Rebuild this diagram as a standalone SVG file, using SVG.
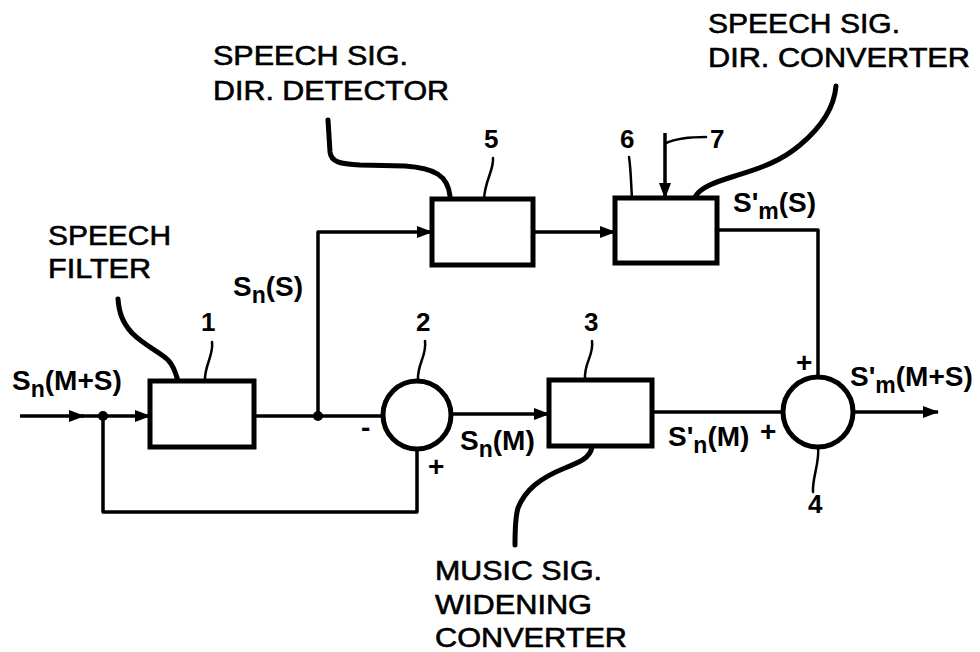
<svg xmlns="http://www.w3.org/2000/svg" width="980" height="652" viewBox="0 0 980 652">
<defs>
<style>
.ln{fill:none;stroke:#000;stroke-width:3.5;stroke-linejoin:round}
.bx{fill:#fff;stroke:#000;stroke-width:5}
.ld{fill:none;stroke:#000;stroke-width:2.5;stroke-linecap:round}
.tk{fill:none;stroke:#000;stroke-width:5;stroke-linecap:round;stroke-linejoin:round}
.lab{font-family:"Liberation Sans",Arial,sans-serif;font-size:27px;fill:#000;stroke:#000;stroke-width:0.6}
.sig{font-family:"Liberation Sans",Arial,sans-serif;font-weight:bold;font-size:28px;fill:#000}
.sub{font-size:23px}
.num{font-family:"Liberation Sans",Arial,sans-serif;font-weight:bold;font-size:26px;fill:#000}
.pm{font-family:"Liberation Sans",Arial,sans-serif;font-weight:bold;font-size:28px;fill:#000}
</style>
<marker id="ah" viewBox="0 0 16 12" refX="15" refY="6" markerWidth="16" markerHeight="12" markerUnits="userSpaceOnUse" orient="auto">
<path d="M0,0 L16,6 L0,12 Z" fill="#000"/>
</marker>
</defs>
<rect width="980" height="652" fill="#fff"/>

<g id="connectors">
<path class="ln" d="M20,416 L84,416" marker-end="url(#ah)"/>
<path class="ln" d="M82,416 L150,416" marker-end="url(#ah)"/>
<path class="ln" d="M103,416 L103,512 L417,512 L417,449"/>
<path class="ln" d="M254,416 L383,416"/>
<path class="ln" d="M318,416 L318,232 L432,232" marker-end="url(#ah)"/>
<path class="ln" d="M533,232 L615,232" marker-end="url(#ah)"/>
<path class="ln" d="M717,230 L818,230 L818,377"/>
<path class="ln" d="M451,414 L549,414" marker-end="url(#ah)"/>
<path class="ln" d="M652,412 L783,412"/>
<path class="ln" d="M853,412 L938,412" marker-end="url(#ah)"/>
<path class="ln" d="M665,133 L665,198" marker-end="url(#ah)"/>
<circle cx="103" cy="416" r="5" fill="#000"/>
<circle cx="318" cy="416" r="5" fill="#000"/>
</g>

<g id="leaders">
<path class="tk" d="M118,299 C119,312 122,322 132,333 C145,346 160,352 168,360 C174,366 176,374 178,381"/>
<path class="ld" d="M212,342 C214,355 204,366 205,381"/>
<path class="ld" d="M425,341 C427,356 417,364 418,380"/>
<path class="ld" d="M592,341 C594,356 584,362 585,379"/>
<path class="tk" d="M328,120 L330,152 C331,162 340,164 360,165 L405,166 C435,168 448,176 450,196"/>
<path class="ld" d="M493,158 C494,170 485,180 484,199"/>
<path class="ld" d="M629,157 C631,170 631,185 632,198"/>
<path class="ld" d="M666,143 C675,139 685,137 706,137"/>
<path class="tk" d="M836,86 C834,110 818,130 800,145 C780,162 760,168 735,176 C712,183 700,188 695,197"/>
<path class="ld" d="M818,447 C820,462 812,478 813,492"/>
<path class="tk" d="M592,447 C590,458 580,462 565,468 C540,478 525,490 518,508 C515,518 515,532 515,545"/>
</g>

<g id="n1"><rect class="bx" x="150" y="381" width="104" height="66"/><text class="num" x="201" y="331">1</text></g>
<g id="n2"><circle class="bx" cx="417" cy="415" r="34"/><text class="num" x="416" y="331">2</text></g>
<g id="n3"><rect class="bx" x="549" y="380" width="103" height="66"/><text class="num" x="584" y="331">3</text></g>
<g id="n4"><circle class="bx" cx="818" cy="412" r="35"/><text class="num" x="808" y="513">4</text></g>
<g id="n5"><rect class="bx" x="432" y="199" width="101" height="66"/><text class="num" x="484" y="148">5</text></g>
<g id="n6"><rect class="bx" x="615" y="198" width="102" height="65"/><text class="num" x="620" y="148">6</text></g>
<g id="n7"><text class="num" x="710" y="148">7</text></g>

<g id="labels">
<text class="lab" x="48" y="245" textLength="123" lengthAdjust="spacingAndGlyphs">SPEECH</text>
<text class="lab" x="48" y="278" textLength="103" lengthAdjust="spacingAndGlyphs">FILTER</text>
<text class="lab" x="213" y="65" textLength="195" lengthAdjust="spacingAndGlyphs">SPEECH SIG.</text>
<text class="lab" x="213" y="100" textLength="236" lengthAdjust="spacingAndGlyphs">DIR. DETECTOR</text>
<text class="lab" x="708" y="33" textLength="192" lengthAdjust="spacingAndGlyphs">SPEECH SIG.</text>
<text class="lab" x="708" y="67" textLength="262" lengthAdjust="spacingAndGlyphs">DIR. CONVERTER</text>
<text class="lab" x="435" y="580" textLength="167" lengthAdjust="spacingAndGlyphs">MUSIC SIG.</text>
<text class="lab" x="435" y="614" textLength="157" lengthAdjust="spacingAndGlyphs">WIDENING</text>
<text class="lab" x="435" y="647" textLength="192" lengthAdjust="spacingAndGlyphs">CONVERTER</text>

<text class="sig" x="12" y="390">S<tspan class="sub" dy="7">n</tspan><tspan dy="-7">(M+S)</tspan></text>
<text class="sig" x="233" y="296">S<tspan class="sub" dy="7">n</tspan><tspan dy="-7">(S)</tspan></text>
<text class="sig" x="460" y="450">S<tspan class="sub" dy="7">n</tspan><tspan dy="-7">(M)</tspan></text>
<text class="sig" x="668" y="446">S'<tspan class="sub" dy="7">n</tspan><tspan dy="-7">(M)</tspan></text>
<text class="sig" x="733" y="212">S'<tspan class="sub" dy="7">m</tspan><tspan dy="-7">(S)</tspan></text>
<text class="sig" x="850" y="386">S'<tspan class="sub" dy="7">m</tspan><tspan dy="-7">(M+S)</tspan></text>

<text class="pm" x="361" y="437">-</text>
<text class="pm" x="428" y="476">+</text>
<text class="pm" x="760" y="441">+</text>
<text class="pm" x="796" y="372">+</text>
</g>
</svg>
